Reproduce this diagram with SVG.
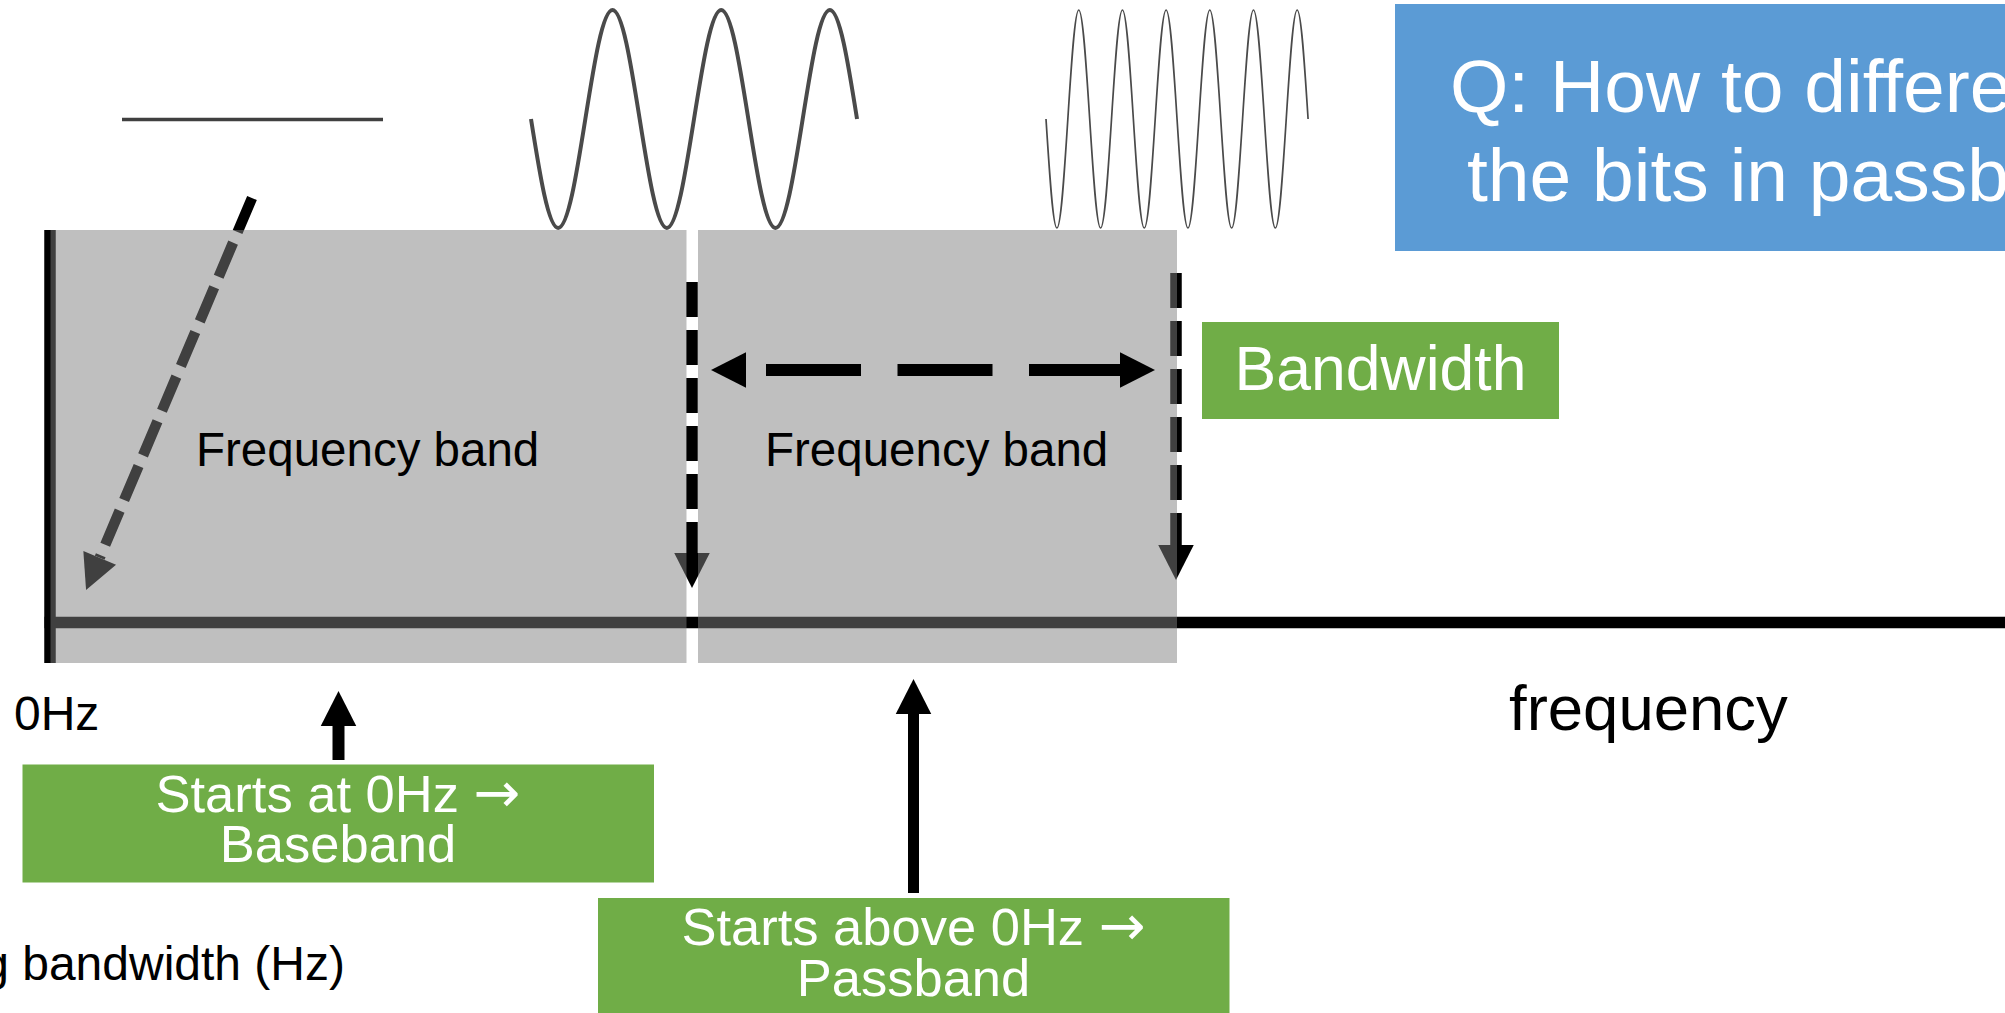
<svg xmlns="http://www.w3.org/2000/svg" width="2005" height="1013" viewBox="0 0 2005 1013">
<style>
text{font-family:"Liberation Sans",Arial,sans-serif}
.band{fill:#808080;fill-opacity:0.5}
.green{fill:#70AD47}
.wt{fill:#fff}
.bk{fill:#000}
.arr{font-family:"DejaVu Sans",sans-serif;font-size:56px}
.dash{fill:none;stroke:#000;stroke-width:11.5;stroke-dasharray:35 13}
.wave{fill:none;stroke:#4a4a4a}
</style>
<defs>
<marker id="ah" markerUnits="userSpaceOnUse" orient="auto-start-reverse" refX="0" refY="0" markerWidth="40" markerHeight="40" viewBox="0 -20 40 40" overflow="visible">
<path d="M0,-17.75 L35,0 L0,17.75 Z" fill="#000"/>
</marker>
</defs>
<rect width="2005" height="1013" fill="#fff"/>

<g id="axes">
<line x1="50" y1="230" x2="50" y2="663" stroke="#000" stroke-width="11.5"/>
<line x1="44.5" y1="622.5" x2="2005" y2="622.5" stroke="#000" stroke-width="11.5"/>
</g>

<g id="signal-flat">
<line x1="122" y1="119.5" x2="383" y2="119.5" stroke="#404040" stroke-width="3.5"/>
</g>
<g id="signal-low">
<path class="wave" stroke-width="4" d="M531,119 c 8.86,55.84 17.34,109 27.17,109 c 9.83,0 18.31,-53.16 27.17,-109 c 8.86,-55.84 17.34,-109 27.17,-109 c 9.83,0 18.31,53.16 27.17,109 c 8.86,55.84 17.34,109 27.17,109 c 9.83,0 18.31,-53.16 27.17,-109 c 8.86,-55.84 17.34,-109 27.17,-109 c 9.83,0 18.31,53.16 27.17,109 c 8.86,55.84 17.34,109 27.17,109 c 9.83,0 18.31,-53.16 27.17,-109 c 8.86,-55.84 17.34,-109 27.17,-109 c 9.83,0 18.31,53.16 27.17,109"/>
</g>
<g id="signal-high">
<path class="wave" stroke-width="1.7" d="M1046,119 c 3.56,55.84 6.97,109 10.92,109 c 3.95,0 7.36,-53.16 10.92,-109 c 3.56,-55.84 6.97,-109 10.92,-109 c 3.95,0 7.36,53.16 10.92,109 c 3.56,55.84 6.97,109 10.92,109 c 3.95,0 7.36,-53.16 10.92,-109 c 3.56,-55.84 6.97,-109 10.92,-109 c 3.95,0 7.36,53.16 10.92,109 c 3.56,55.84 6.97,109 10.92,109 c 3.95,0 7.36,-53.16 10.92,-109 c 3.56,-55.84 6.97,-109 10.92,-109 c 3.95,0 7.36,53.16 10.92,109 c 3.56,55.84 6.97,109 10.92,109 c 3.95,0 7.36,-53.16 10.92,-109 c 3.56,-55.84 6.97,-109 10.92,-109 c 3.95,0 7.36,53.16 10.92,109 c 3.56,55.84 6.97,109 10.92,109 c 3.95,0 7.36,-53.16 10.92,-109 c 3.56,-55.84 6.97,-109 10.92,-109 c 3.95,0 7.36,53.16 10.92,109 c 3.56,55.84 6.97,109 10.92,109 c 3.95,0 7.36,-53.16 10.92,-109 c 3.56,-55.84 6.97,-109 10.92,-109 c 3.95,0 7.36,53.16 10.92,109"/>
</g>

<g id="connectors">
<path d="M252,198 L99.7,557.8" fill="none" stroke="#000" stroke-width="10.5" stroke-dasharray="37 11.5" marker-end="url(#ah)"/>
<path class="dash" d="M692,282 L692,553" marker-end="url(#ah)"/>
<path class="dash" d="M1176,273 L1176,545" marker-end="url(#ah)"/>
</g>

<g id="band-baseband">
<rect class="band" x="50.5" y="230" width="636" height="433"/>
<text class="bk" x="196" y="466" font-size="47.5">Frequency band</text>
</g>
<g id="band-passband">
<rect class="band" x="698" y="230" width="479" height="433"/>
<text class="bk" x="765" y="466" font-size="47.5">Frequency band</text>
</g>

<g id="connectors-front">
<path d="M746,370 L1120,370" fill="none" stroke="#000" stroke-width="12" stroke-dasharray="95 36.5" stroke-dashoffset="111.5" marker-start="url(#ah)" marker-end="url(#ah)"/>
<path d="M338.5,760 L338.5,726" fill="none" stroke="#000" stroke-width="12" marker-end="url(#ah)"/>
<path d="M913.5,893 L913.5,714" fill="none" stroke="#000" stroke-width="11" marker-end="url(#ah)"/>
</g>

<g id="question">
<rect x="1395" y="4" width="640" height="247" fill="#5B9BD5"/>
<text class="wt" x="1450" y="112" font-size="75">Q: How to differe</text>
<text class="wt" x="1467" y="201" font-size="75">the bits in passb</text>
</g>

<g id="bandwidth-label">
<rect class="green" x="1202" y="322" width="357" height="97"/>
<text class="wt" x="1380.5" y="390" font-size="62.5" text-anchor="middle">Bandwidth</text>
</g>

<g id="baseband-label">
<rect class="green" x="22.5" y="764.5" width="631.5" height="118"/>
<text class="wt" x="338" y="812" font-size="52.5" text-anchor="middle">Starts at 0Hz <tspan class="arr">→</tspan></text>
<text class="wt" x="338" y="862" font-size="52.5" text-anchor="middle">Baseband</text>
</g>

<g id="passband-label">
<rect class="green" x="598" y="898" width="631.5" height="120"/>
<text class="wt" x="913.5" y="945" font-size="52.5" text-anchor="middle">Starts above 0Hz <tspan class="arr">→</tspan></text>
<text class="wt" x="913.5" y="996" font-size="52.5" text-anchor="middle">Passband</text>
</g>

<g id="labels">
<text class="bk" x="14" y="730" font-size="48">0Hz</text>
<text class="bk" x="1509" y="730" font-size="63.5">frequency</text>
<text class="bk" x="345" y="980" font-size="48" text-anchor="end">g bandwidth (Hz)</text>
</g>
</svg>
